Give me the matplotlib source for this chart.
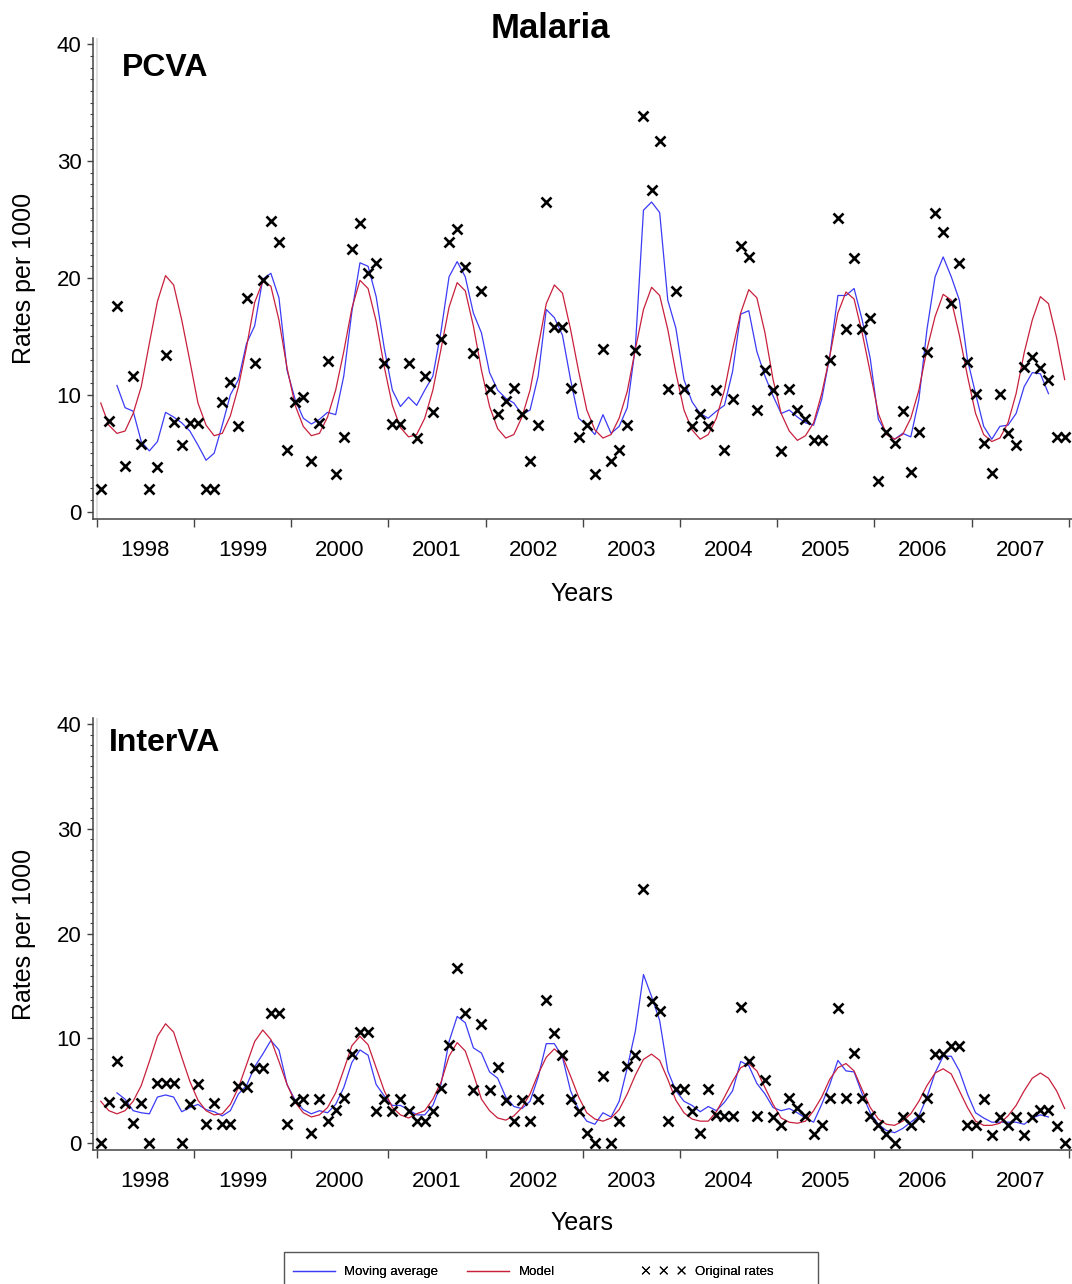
import numpy as np
import matplotlib
matplotlib.use("Agg")
import matplotlib.pyplot as plt
from matplotlib.lines import Line2D
from matplotlib.patches import Rectangle

plt.rcParams['font.family'] = ['Liberation Sans', 'DejaVu Sans']

# monthly data, Jan 1998 - Dec 2007
years = ['1998', '1999', '2000', '2001', '2002', '2003', '2004', '2005', '2006', '2007']

# PCVA
pcva_rates = [1.9, 7.8, 17.6, 3.9, 11.6, 5.8, 1.9, 3.8, 13.4, 7.7, 5.7, 7.6,
              7.6, 1.9, 1.9, 9.4, 11.1, 7.3, 18.3, 12.7, 19.8, 24.9, 23.1, 5.3,
              9.4, 9.8, 4.3, 7.6, 12.9, 3.2, 6.4, 22.5, 24.7, 20.4, 21.3, 12.7,
              7.5, 7.5, 12.7, 6.3, 11.6, 8.5, 14.8, 23.1, 24.2, 20.9, 13.6, 18.9,
              10.5, 8.4, 9.5, 10.6, 8.4, 4.3, 7.4, 26.5, 15.8, 15.8, 10.6, 6.4,
              7.4, 3.2, 13.9, 4.3, 5.3, 7.4, 13.8, 33.9, 27.5, 31.7, 10.5, 18.9,
              10.5, 7.3, 8.4, 7.3, 10.4, 5.3, 9.6, 22.7, 21.8, 8.7, 12.1, 10.4,
              5.2, 10.5, 8.7, 7.9, 6.1, 6.1, 13.0, 25.1, 15.6, 21.7, 15.6, 16.6,
              2.6, 6.8, 5.9, 8.6, 3.4, 6.8, 13.7, 25.6, 23.9, 17.9, 21.3, 12.8,
              10.1, 5.9, 3.3, 10.1, 6.7, 5.7, 12.4, 13.2, 12.3, 11.3, 6.4, 6.4]

# moving average runs from Mar 1998 to Oct 2007
pcva_ma = [10.8, 8.9, 8.6, 6.0, 5.2, 6.0, 8.5, 8.1, 7.6, 6.9,
           5.7, 4.4, 5.0, 7.4, 10.0, 11.3, 14.4, 15.9, 19.9, 20.4, 18.3, 12.1,
           9.6, 8.0, 7.5, 7.9, 8.5, 8.3, 11.6, 17.1, 21.3, 21.0, 18.4, 14.0,
           10.4, 9.0, 9.8, 9.1, 10.4, 11.6, 15.4, 20.1, 21.4, 20.1, 17.0, 15.3,
           11.9, 10.4, 9.7, 9.3, 8.3, 8.7, 11.6, 17.3, 16.6, 15.1, 11.3, 8.0,
           7.4, 6.6, 8.3, 6.7, 7.3, 8.9, 14.1, 25.8, 26.5, 25.6, 18.1, 15.7,
           11.3, 9.4, 8.4, 8.0, 8.6, 9.1, 12.0, 16.9, 17.2, 13.7, 11.6, 9.9,
           8.4, 8.7, 8.1, 7.6, 7.4, 9.6, 13.3, 18.5, 18.5, 19.1, 16.4, 13.1,
           7.9, 6.7, 6.2, 6.7, 6.4, 9.6, 15.6, 20.1, 21.8, 20.1, 18.1, 13.0,
           10.1, 7.3, 6.2, 7.3, 7.4, 8.4, 10.7, 11.9, 11.8, 10.1]

pcva_model = [9.3, 7.4, 6.7, 6.9, 8.4, 10.7, 14.4, 18.0, 20.2, 19.4, 16.4, 12.9,
              9.3, 7.4, 6.5, 6.7, 8.2, 10.7, 14.1, 17.9, 19.7, 19.3, 16.4, 12.3,
              9.1, 7.3, 6.5, 6.7, 8.1, 10.4, 13.7, 17.4, 19.8, 19.1, 16.3, 12.4,
              9.1, 7.2, 6.4, 6.6, 8.0, 10.4, 13.9, 17.5, 19.6, 18.9, 15.9, 12.1,
              9.0, 7.1, 6.3, 6.6, 8.1, 10.4, 14.1, 17.8, 19.4, 18.7, 15.6, 12.0,
              8.7, 7.0, 6.3, 6.6, 8.0, 10.3, 13.9, 17.3, 19.2, 18.5, 15.6, 11.9,
              8.7, 7.0, 6.2, 6.6, 8.0, 10.4, 13.9, 17.0, 19.0, 18.3, 15.3, 11.3,
              8.4, 6.9, 6.1, 6.5, 7.6, 10.1, 13.3, 17.0, 18.8, 18.2, 15.3, 11.9,
              8.4, 6.6, 6.2, 6.6, 8.0, 10.4, 13.9, 16.7, 18.6, 18.1, 15.1, 11.6,
              8.4, 6.6, 6.0, 6.3, 7.6, 10.1, 13.6, 16.4, 18.4, 17.8, 14.9, 11.3]

# InterVA
interva_rates = [0.0, 3.9, 7.8, 3.8, 1.9, 3.8, 0.0, 5.7, 5.7, 5.7, 0.0, 3.7,
                 5.6, 1.8, 3.8, 1.8, 1.8, 5.5, 5.4, 7.2, 7.2, 12.4, 12.4, 1.8,
                 4.0, 4.2, 1.0, 4.2, 2.1, 3.2, 4.3, 8.5, 10.6, 10.6, 3.1, 4.2,
                 3.1, 4.2, 3.1, 2.1, 2.1, 3.1, 5.3, 9.4, 16.7, 12.4, 5.1, 11.4,
                 5.1, 7.3, 4.1, 2.1, 4.1, 2.1, 4.2, 13.7, 10.5, 8.4, 4.2, 3.1,
                 1.0, 0.0, 6.4, 0.0, 2.1, 7.4, 8.4, 24.3, 13.6, 12.6, 2.1, 5.2,
                 5.2, 3.1, 1.0, 5.2, 2.7, 2.6, 2.6, 13.0, 7.8, 2.6, 6.0, 2.5,
                 1.7, 4.3, 3.4, 2.6, 0.9, 1.7, 4.3, 12.9, 4.3, 8.6, 4.3, 2.6,
                 1.7, 0.9, 0.0, 2.5, 1.7, 2.5, 4.3, 8.5, 8.5, 9.3, 9.3, 1.7,
                 1.7, 4.2, 0.8, 2.5, 1.7, 2.5, 0.8, 2.5, 3.2, 3.2, 1.6, 0.0]

interva_ma = [4.8, 4.2, 3.1, 2.9, 2.8, 4.4, 4.6, 4.4, 3.0, 3.4,
              3.7, 3.2, 3.0, 2.6, 3.1, 4.7, 5.5, 7.3, 8.5, 9.8, 8.9, 5.6,
              4.1, 3.2, 2.8, 3.1, 2.9, 3.7, 5.3, 7.7, 8.9, 8.4, 5.6, 4.5,
              3.6, 3.6, 3.2, 2.7, 2.7, 3.6, 5.6, 9.7, 12.1, 11.5, 9.1, 8.6,
              6.8, 6.2, 4.4, 3.5, 3.3, 4.0, 6.3, 9.5, 9.5, 8.2, 5.0, 3.2,
              2.1, 1.8, 2.9, 2.5, 4.0, 7.2, 10.7, 16.1, 14.0, 11.7, 6.9, 5.0,
              4.0, 3.6, 3.0, 3.5, 3.1, 3.9, 5.0, 7.8, 7.4, 5.7, 4.7, 3.4,
              3.1, 3.3, 2.9, 2.4, 2.0, 3.7, 5.6, 7.9, 6.9, 6.8, 4.7, 2.9,
              1.8, 1.2, 1.0, 1.4, 2.0, 2.6, 4.4, 6.7, 8.3, 8.3, 6.9, 4.7,
              2.9, 2.4, 2.0, 2.0, 2.0, 2.0, 1.8, 2.4, 2.7, 2.5]

interva_model = [4.0, 3.1, 2.8, 3.1, 4.0, 5.5, 7.8, 10.2, 11.4, 10.6, 8.2, 5.9,
                 4.1, 3.1, 2.7, 2.8, 3.7, 5.3, 7.5, 9.7, 10.8, 9.9, 7.8, 5.6,
                 3.9, 2.9, 2.5, 2.7, 3.4, 4.8, 7.0, 9.3, 10.2, 9.4, 7.2, 5.0,
                 3.4, 2.7, 2.4, 2.8, 3.1, 4.2, 5.8, 8.3, 9.6, 8.8, 6.6, 4.2,
                 3.1, 2.4, 2.2, 2.6, 3.4, 4.7, 6.6, 8.2, 9.0, 8.3, 6.4, 4.4,
                 2.9, 2.3, 2.1, 2.4, 3.2, 4.7, 6.5, 8.0, 8.5, 7.9, 6.1, 4.1,
                 2.9, 2.3, 2.1, 2.1, 3.0, 4.4, 5.9, 7.2, 7.6, 6.9, 5.3, 3.7,
                 2.4, 2.0, 1.9, 2.1, 3.1, 4.4, 6.1, 7.2, 7.6, 6.9, 5.1, 3.4,
                 2.3, 1.8, 1.7, 2.1, 2.8, 4.0, 5.5, 6.7, 7.1, 6.6, 5.0, 3.4,
                 2.1, 1.7, 1.7, 1.9, 2.6, 3.6, 5.0, 6.2, 6.7, 6.2, 5.0, 3.3]

BLUE = '#3b3bf5'
RED = '#c8203c'

W, H = 1072, 1284
fig = plt.figure(figsize=(W / 100, H / 100), dpi=100)

x = np.arange(120) + 0.5          # month centres
x_ma = x[2:2 + len(pcva_ma)]


def panel(rect, rates, ma, model, name, name_xy, xlab_y):
    ax = fig.add_axes(rect)
    ax.axvline(0, color='#dcdcdc', lw=1.2, zorder=0)
    ax.plot(x_ma, ma, color=BLUE, lw=0.9, zorder=2)
    ax.plot(x, model, color=RED, lw=0.9, zorder=2)
    ax.plot(x, rates, 'x', color='k', ms=6.8, mew=1.9, zorder=3)

    ax.set_xlim(-0.49, 120.35)
    ax.set_ylim(-0.65, 40.57)

    for s in ['top', 'right']:
        ax.spines[s].set_visible(False)
    for s in ['left', 'bottom']:
        ax.spines[s].set_color('#444444')
        ax.spines[s].set_linewidth(1.1)

    ax.set_xticks(np.arange(0, 121, 12))
    ax.set_xticklabels([])
    ax.set_xticks(np.arange(6, 120, 12), minor=True)
    ax.set_xticklabels(years, minor=True)
    ax.tick_params(axis='x', which='major', direction='out', length=5.8,
                   width=1, color='#444444')
    ax.tick_params(axis='x', which='minor', length=0, pad=15, labelsize=16)

    ax.set_yticks(np.arange(0, 41, 10))
    ax.set_yticks(np.arange(0, 41, 1), minor=True)
    ax.tick_params(axis='y', which='major', direction='out', length=4,
                   width=1, pad=4, labelsize=16, color='#444444')
    ax.tick_params(axis='y', which='minor', direction='out', length=2.4,
                   width=0.8, color='#444444')

    ax.set_ylabel('Rates per 1000', fontsize=18)
    ax.yaxis.set_label_coords(-0.0584, 0.5)
    ax.set_xlabel('Years', fontsize=18)
    ax.xaxis.set_label_coords(0.5, xlab_y)

    ax.text(name_xy[0], name_xy[1], name, transform=ax.transAxes,
            fontsize=23, fontweight='bold', ha='left', va='top')
    return ax


ax1 = panel([0.0865, 0.5956, 0.9131, 0.3751], pcva_rates, pcva_ma, pcva_model,
            'PCVA', (0.030, 0.968), -0.130)
ax2 = panel([0.0865, 0.1044, 0.9131, 0.3362], interva_rates, interva_ma, interva_model,
            'InterVA', (0.017, 0.977), -0.141)

fig.text(550 / W, 1 - 38 / H, 'Malaria', ha='center', va='baseline',
         fontsize=25, fontweight='bold')

# legend: frame plus three entries
fig.patches.append(Rectangle((284 / W, -0.01), 534 / W, 32 / H + 0.01,
                             transform=fig.transFigure, fill=False,
                             edgecolor='#555555', lw=1.0))
h_ma = Line2D([], [], color=BLUE, lw=0.9)
h_mod = Line2D([], [], color=RED, lw=0.9)
h_raw = plt.scatter([], [], marker='x', color='k', s=30, linewidths=0.8)
leg_y = 1 - 1272 / H
for h, lab, x0, hl in [(h_ma, 'Moving average', 293, 3.2),
                       (h_mod, 'Model', 467, 3.2),
                       (h_raw, 'Original rates', 642, 3.3)]:
    leg = fig.legend([h], [lab], loc='center left', bbox_to_anchor=(x0 / W, leg_y),
                     frameon=False, fontsize=9.5, borderpad=0, borderaxespad=0,
                     handlelength=hl, handletextpad=0.7, scatterpoints=3,
                     scatteryoffsets=[0.5])
    fig.add_artist(leg)

fig.savefig('out.png', dpi=100)
